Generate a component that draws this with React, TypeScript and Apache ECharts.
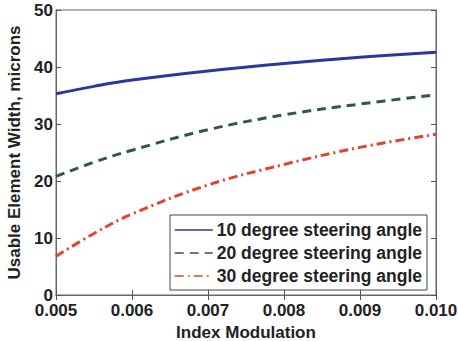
import React, { useEffect, useRef } from "react";
import * as echarts from "echarts";

const xValues = [0.005, 0.0055, 0.006, 0.007, 0.008, 0.009, 0.010];
const seriesNames = ["10 degree steering angle", "20 degree steering angle", "30 degree steering angle"];
const deg10 = [35.3, 36.6, 37.7, 39.3, 40.6, 41.7, 42.6];
const deg20 = [20.8, 23.3, 25.4, 29.0, 31.6, 33.5, 35.1];
const deg30 = [6.8, 10.8, 14.2, 19.3, 22.9, 25.9, 28.2];
const yTicks = { min: 0, max: 50, interval: 10 };

export default function App() {
  const ref = useRef<HTMLDivElement>(null);
  useEffect(() => {
    if (!ref.current) return;
    const chart = echarts.init(ref.current, null, { renderer: "svg" });
    const font = "Liberation Sans, Arial, sans-serif";
    const mk = (arr: number[]) => xValues.map((x, i) => [x, arr[i]]);
    const tickStyle = { show: true, inside: true, length: 5, lineStyle: { color: "#555", width: 1 } };
    chart.setOption({
      animation: false,
      backgroundColor: "#fff",
      grid: {
        left: 56,
        right: 22,
        top: 10,
        bottom: 46,
        show: true,
        borderColor: "#666",
        borderWidth: 1,
        outerBoundsMode: "none",
        containLabel: false,
      },
      xAxis: [
        {
          type: "value",
          min: 0.005,
          max: 0.01,
          interval: 0.001,
          name: "Index Modulation",
          nameLocation: "middle",
          nameGap: 27,
          nameTextStyle: { fontFamily: font, fontWeight: "bold", fontSize: 17, color: "#222", lineHeight: 17 },
          axisLine: { show: true, lineStyle: { color: "#666" } },
          axisTick: tickStyle,
          splitLine: { show: false },
          axisLabel: {
            fontFamily: font,
            fontWeight: "bold",
            fontSize: 17,
            color: "#222",
            margin: 7,
            formatter: (v: number) => v.toFixed(3),
          },
        },
        {
          type: "value",
          position: "top",
          min: 0.005,
          max: 0.01,
          interval: 0.001,
          axisLine: { show: true, lineStyle: { color: "#666" } },
          axisTick: tickStyle,
          axisLabel: { show: false },
          splitLine: { show: false },
        },
      ],
      yAxis: [
        {
          type: "value",
          ...yTicks,
          name: "Usable Element Width, microns",
          nameLocation: "middle",
          nameGap: 32,
          nameTextStyle: { fontFamily: font, fontWeight: "bold", fontSize: 17, color: "#222" },
          axisLine: { show: true, lineStyle: { color: "#666" } },
          axisTick: tickStyle,
          splitLine: { show: false },
          axisLabel: { fontFamily: font, fontWeight: "bold", fontSize: 17, color: "#222", margin: 3 },
        },
        {
          type: "value",
          position: "right",
          ...yTicks,
          axisLine: { show: true, lineStyle: { color: "#666" } },
          axisTick: tickStyle,
          axisLabel: { show: false },
          splitLine: { show: false },
        },
      ],
      legend: {
        orient: "vertical",
        left: 170,
        top: 215,
        padding: [6, 5, 5, 4],
        itemGap: 5,
        itemWidth: 38,
        itemHeight: 15,
        backgroundColor: "#fff",
        borderColor: "#444",
        borderWidth: 1,
        borderRadius: 0,
        itemStyle: { opacity: 0 },
        lineStyle: { width: 1.5, opacity: 1 },
        textStyle: { fontFamily: font, fontWeight: "bold", fontSize: 17.5, color: "#222", padding: [0, 0, 0, -1] },
        data: seriesNames,
      },
      series: [
        {
          name: seriesNames[0],
          type: "line",
          data: mk(deg10),
          smooth: 0.4,
          showSymbol: false,
          symbol: "none",
          color: "#2b36a0",
          lineStyle: { width: 3, color: "#2b36a0" },
        },
        {
          name: seriesNames[1],
          type: "line",
          data: mk(deg20),
          smooth: 0.4,
          showSymbol: false,
          symbol: "none",
          color: "#2f5a40",
          lineStyle: { width: 3, color: "#2f5a40", type: [9, 6] },
        },
        {
          name: seriesNames[2],
          type: "line",
          data: mk(deg30),
          smooth: 0.4,
          showSymbol: false,
          symbol: "none",
          color: "#e0442c",
          lineStyle: { width: 3, color: "#e0442c", type: [9, 4, 2, 4] },
        },
      ],
    });
    return () => chart.dispose();
  }, []);
  return <div ref={ref} style={{ width: 458, height: 341, position: "absolute", left: 0, top: 0 }} />;
}
